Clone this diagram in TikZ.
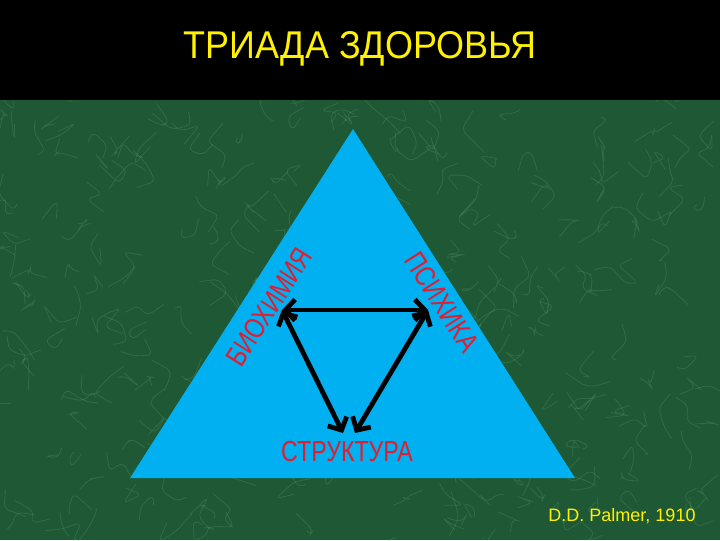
\documentclass[tikz,border=0pt]{standalone}
\usepackage{fontspec}
\setmainfont{Liberation Sans}
\usetikzlibrary{arrows.meta}
\definecolor{marble}{RGB}{30,88,52}
\definecolor{vein}{RGB}{100,170,120}
\definecolor{skyblue}{RGB}{0,176,240}
\definecolor{labelred}{RGB}{228,28,48}
\newcommand{\squeezed}[2][0.8]{\scalebox{#1}[1]{#2}}
\begin{document}
\begin{tikzpicture}[x=0.025cm,y=-0.025cm,
    side/.style={text=labelred,font=\fontsize{20.6}{24}\selectfont,inner sep=0pt},
    link/.style={line width=3.4pt,{Straight Barb[length=7pt,width=15pt]}-{Straight Barb[length=7pt,width=15pt]}}]
            \useasboundingbox (0,0) rectangle (720,540);
            \fill[marble] (0,0) rectangle (720,540);
            % marble veins
            \pgfmathsetseed{11}
            \begin{scope}
            \clip (0,100) rectangle (720,540);
            \foreach \i in {1,...,320}{
                \pgfmathsetmacro{\vx}{720*rnd}
                \pgfmathsetmacro{\vy}{100+440*rnd}
                \draw[vein,opacity=0.25,line width=0.6pt,rounded corners=4pt] (\vx,\vy) -- ++(20*rand,20*rand) -- ++(20*rand,20*rand) -- ++(20*rand,20*rand);
            }
            \end{scope}
            \fill[black] (0,0) rectangle (720,100);
            \node[text=yellow,font=\fontsize{27.5}{32}\selectfont] (title) at (360,49) {\squeezed[0.93]{ТРИАДА ЗДОРОВЬЯ}};

            \fill[skyblue] (353,129) -- (575,478) -- (130,478) -- cycle;

            \node[side,rotate=57.4] (bio) at (269,307) {\squeezed{БИОХИМИЯ}};
            \node[side,rotate=-57.4] (psy) at (442,302) {\squeezed{ПСИХИКА}};
            \node[side] (struct) at (347,452) {\squeezed{СТРУКТУРА}};

            \coordinate (b) at (282,310);
            \coordinate (p) at (428,310);
            \coordinate (sl) at (343,433);
            \coordinate (sr) at (355,433);
            \draw[link] (b) -- (p);
            \draw[link] (b) -- (sl);
            \draw[link] (p) -- (sr);

            \node[text=yellow,font=\fontsize{12.8}{14}\selectfont] (palmer) at (622,516) {D.D. Palmer, 1910};
        \end{tikzpicture}
\end{document}
